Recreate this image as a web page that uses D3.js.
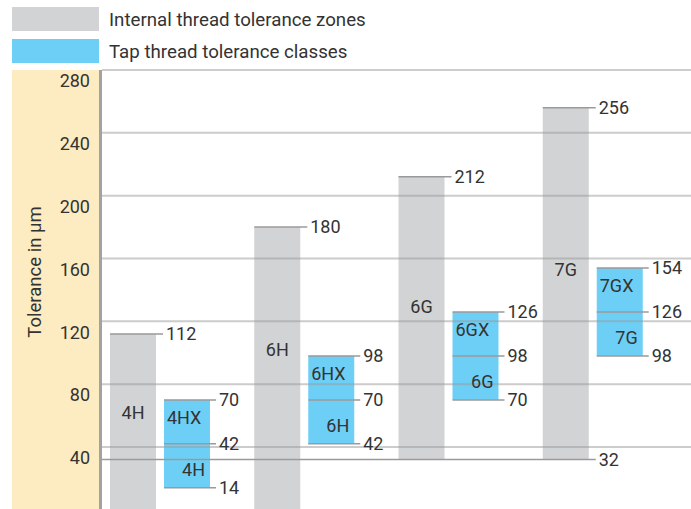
<!DOCTYPE html>
<html>
<head>
<meta charset="utf-8">
<script src="https://cdn.jsdelivr.net/npm/d3@7"></script>
<style>
  body { margin: 0; background: #fff; }
  text { font-family: Roboto, "Noto Sans", sans-serif; fill: #333; }
</style>
</head>
<body>
<script>
// chart data
var groups = ["4H", "6H", "6G", "7G"];
var zoneLow = [0, 0, 32, 32];
var zoneHigh = [112, 180, 212, 256];
var zoneLabelAt = [62, 102, 129, 153];   // where the zone name sits, in µm
var tapUpperNames = ["4HX", "6HX", "6GX", "7GX"];
var tapLowerNames = ["4H", "6H", "6G", "7G"];
var tapLow = [14, 42, 70, 98];
var tapMid = [42, 70, 98, 126];
var tapHigh = [70, 98, 126, 154];
var yTicks = [40, 80, 120, 160, 200, 240, 280];
var legendLabels = ["Internal thread tolerance zones", "Tap thread tolerance classes"];

var width = 691, height = 509;
var grey = "#d1d3d4", blue = "#6dcff6", beige = "#fdebc1";
var fs = "18px";

var svg = d3.select("body").append("svg")
    .attr("width", width)
    .attr("height", height);

var y = d3.scaleLinear().domain([40, 280]).range([447, 70]);
var x = d3.scaleBand().domain(groups).range([100, 677]);
var barW = 46;

//legend
var legend = svg.selectAll(".legend")
    .data(legendLabels)
    .enter().append("g")
    .attr("transform", function(d, i){ return "translate(12," + (7 + i * 32) + ")"; });
legend.append("rect")
    .attr("width", 87).attr("height", 24)
    .attr("fill", function(d, i){ return i == 0 ? grey : blue; });
legend.append("text")
    .attr("x", 97).attr("y", 12).attr("dy", "0.35em")
    .style("font-size", "18.7px")
    .text(function(d){ return d; });

//axis panel
svg.append("rect")
    .attr("x", 12).attr("y", y(280))
    .attr("width", 87).attr("height", height - y(280))
    .attr("fill", beige);
svg.append("line")
    .attr("x1", 100.5).attr("x2", 100.5)
    .attr("y1", y(280)).attr("y2", height)
    .attr("stroke", "#a2a2a2").attr("stroke-width", 3);

svg.selectAll(".tick-label")
    .data(yTicks)
    .enter().append("text")
    .attr("x", 90).attr("y", function(d){ return y(d) + 11; })
    .attr("dy", "0.35em")
    .attr("text-anchor", "end")
    .style("font-size", fs)
    .text(function(d){ return d; });

svg.append("text")
    .attr("transform", "translate(35," + 272 + ") rotate(-90)")
    .attr("text-anchor", "middle").attr("dy", "0.35em")
    .style("font-size", "18.5px")
    .text("Tolerance in µm");

var idx = d3.range(groups.length);

//internal thread zones (grey)
svg.selectAll(".zone")
    .data(idx)
    .enter().append("rect")
    .attr("x", function(i){ return x(groups[i]) + 10; })
    .attr("y", function(i){ return y(zoneHigh[i]); })
    .attr("width", barW)
    .attr("height", function(i){ return y(zoneLow[i]) - y(zoneHigh[i]); })
    .attr("fill", grey);

//tap classes (blue)
svg.selectAll(".tap")
    .data(idx)
    .enter().append("rect")
    .attr("x", function(i){ return x(groups[i]) + 64; })
    .attr("y", function(i){ return y(tapHigh[i]); })
    .attr("width", barW)
    .attr("height", function(i){ return y(tapLow[i]) - y(tapHigh[i]); })
    .attr("fill", blue);

//gridlines over the bars
svg.selectAll(".grid")
    .data(yTicks)
    .enter().append("line")
    .attr("x1", 102).attr("x2", width)
    .attr("y1", function(d){ return y(d); })
    .attr("y2", function(d){ return y(d); })
    .attr("stroke", "#9a9a9a").attr("stroke-opacity", 0.5)
    .attr("stroke-width", 2);

//leader line + value helper
function leader(x1, x2, v, label){
    svg.append("line")
        .attr("x1", x1).attr("x2", x2)
        .attr("y1", y(v)).attr("y2", y(v))
        .attr("stroke", "#9a9a9a").attr("stroke-width", 1.5);
    if (label){
        svg.append("text")
            .attr("x", x2 + 3).attr("y", y(v)).attr("dy", "0.35em")
            .style("font-size", fs)
            .text(v);
    }
}

idx.forEach(function(i){
    var gx = x(groups[i]) + 10, tx = x(groups[i]) + 64;
    leader(gx, gx + barW + 7, zoneHigh[i], true);
    leader(tx, tx + barW + 6, tapHigh[i], true);
    leader(tx, tx + barW + 6, tapMid[i], true);
    leader(tx, tx + barW + 6, tapLow[i], true);
});
// 32 line runs from the axis to the 7G zone
leader(102, x("7G") + 10 + barW + 7, 32, true);

//names inside the bars
svg.selectAll(".zone-name")
    .data(idx)
    .enter().append("text")
    .attr("x", function(i){ return x(groups[i]) + 10 + barW / 2; })
    .attr("y", function(i){ return y(zoneLabelAt[i]); })
    .attr("dy", "0.35em")
    .attr("text-anchor", "middle")
    .style("font-size", fs)
    .text(function(i){ return groups[i]; });

svg.selectAll(".tap-upper")
    .data(idx)
    .enter().append("text")
    .attr("x", function(i){ return x(groups[i]) + 64 + 3; })
    .attr("y", function(i){ return y(tapHigh[i]) + 18; })
    .attr("dy", "0.35em")
    .style("font-size", fs)
    .text(function(i){ return tapUpperNames[i]; });

svg.selectAll(".tap-lower")
    .data(idx)
    .enter().append("text")
    .attr("x", function(i){ return x(groups[i]) + 64 + barW - 5; })
    .attr("y", function(i){ return y(tapLow[i]) - 18; })
    .attr("dy", "0.35em")
    .attr("text-anchor", "end")
    .style("font-size", fs)
    .text(function(i){ return tapLowerNames[i]; });
</script>
</body>
</html>
